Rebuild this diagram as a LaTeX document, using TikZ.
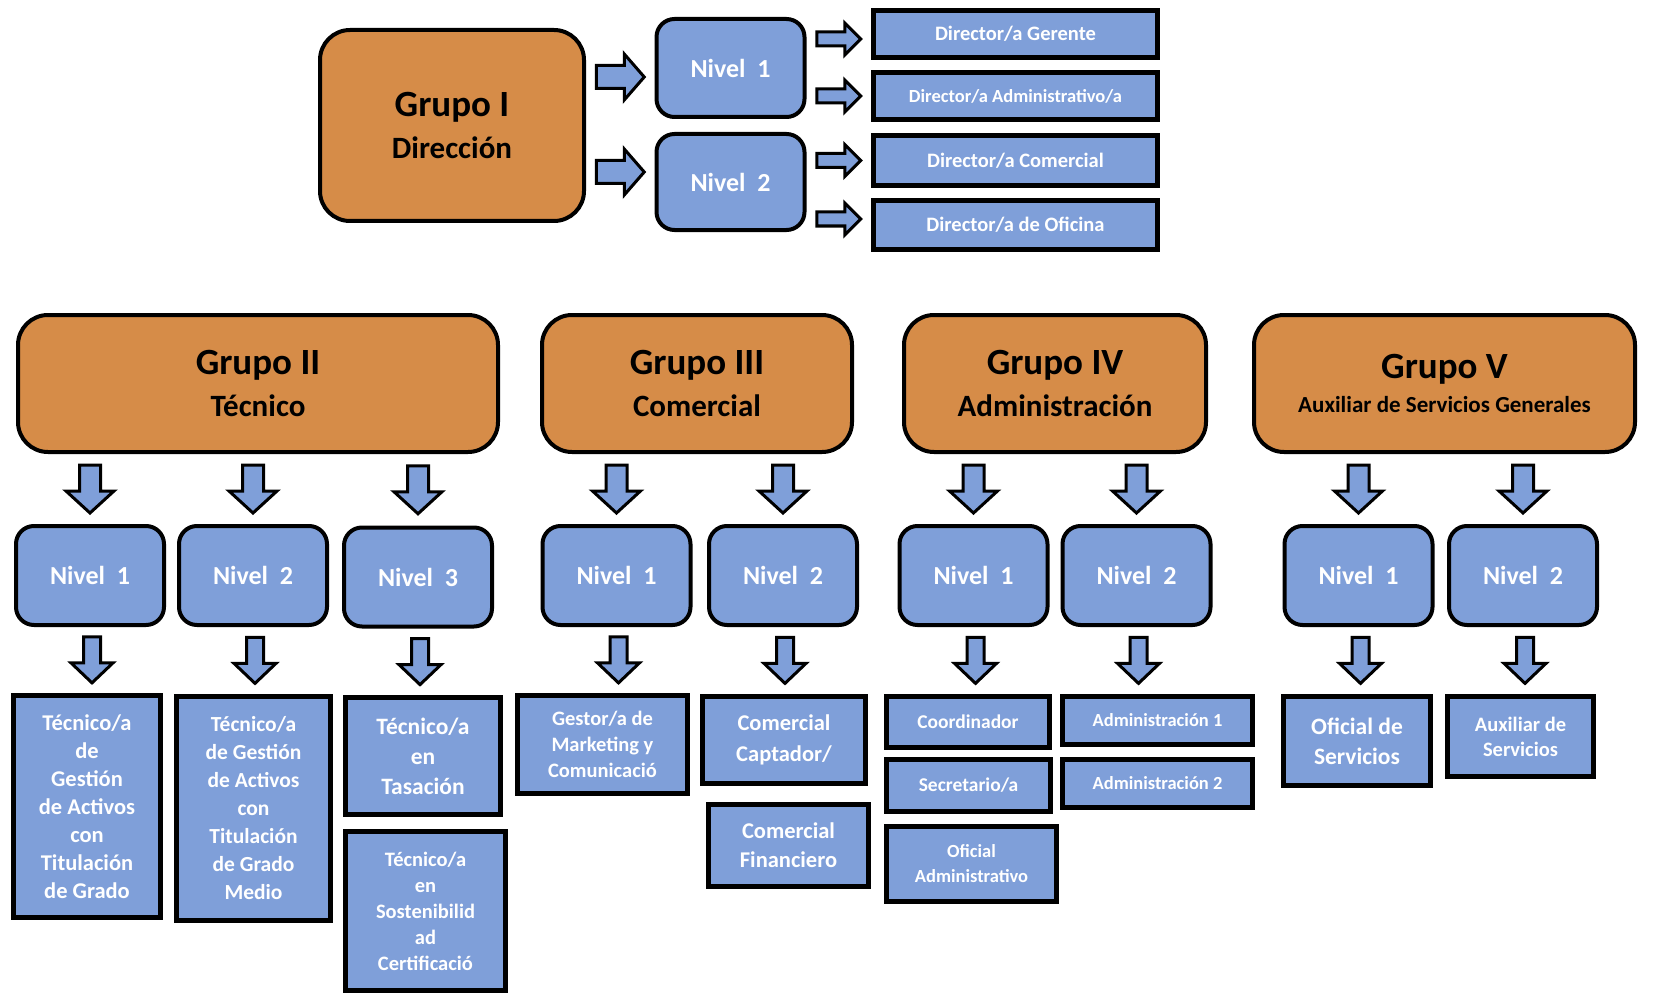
\documentclass[tikz,border=0pt]{standalone}
\usepackage{fontspec}
\setmainfont{Carlito}
\usetikzlibrary{calc}
\definecolor{orng}{RGB}{214,140,72}
\definecolor{blu}{RGB}{127,159,217}
\newcommand\fsz[2]{\fontsize{#1}{#2}\selectfont\bfseries}
\tikzset{
 grp/.style={draw=black, line width=4, fill=orng, rounded corners=30, text=black, align=center, inner sep=0},
 lvl/.style={draw=black, line width=4, fill=blu, rounded corners=18, text=white, align=center, font=\fsz{26}{30}, inner sep=0, minimum width=148, minimum height=99},
 job/.style={draw=black, line width=5.5, fill=blu, text=white, align=center, inner sep=0},
 arrowblk/.style={draw=black, line width=3, fill=blu, line join=miter},
}
% block arrow: #1 centre, #2 angle, #3 length, #4 head width, #5 shaft width, #6 head length
\newcommand\blkarr[6]{%
 \begin{scope}[shift={#1},rotate=#2]
 \draw[arrowblk] ({-#3/2},{-#5/2}) -- ({#3/2-#6},{-#5/2}) -- ({#3/2-#6},{-#4/2}) -- ({#3/2},0) -- ({#3/2-#6},{#4/2}) -- ({#3/2-#6},{#5/2}) -- ({-#3/2},{#5/2}) -- cycle;
 \end{scope}}
\begin{document}
\begin{tikzpicture}[x=1pt,y=-1pt]
\fill[white] (0,0) rectangle (1654,1003);
\useasboundingbox (0,0) rectangle (1654,1003);
% ---------- Group I ----------
\node[grp, minimum width=264, minimum height=191, font=\fsz{31}{42}] (g1) at (452,125.5) {{\fsz{37}{42}Grupo I}\\Dirección};
\node[lvl, minimum height=98] (t1) at (730.5,68) {Nivel~~1};
\node[lvl, minimum height=96] (t2) at (730.5,182) {Nivel~~2};
\node[job, line width=5, minimum width=284, minimum height=47, font=\fsz{20.5}{25}] (d1) at (1015.5,34) {Director/a Gerente};
\node[job, line width=5, minimum width=284, minimum height=47, font=\fsz{18.5}{23}] (d2) at (1015.5,96) {Director/a Administrativo/a};
\node[job, line width=5, minimum width=284, minimum height=50, font=\fsz{20.5}{25}] (d3) at (1015.5,160.5) {Director/a Comercial};
\node[job, line width=5, minimum width=284, minimum height=49, font=\fsz{20.5}{25}] (d4) at (1015.5,225) {Director/a de Oficina};
\blkarr{($(g1.east |- 0,77)!.5!(t1.west |- 0,77)$)}{0}{48}{46}{23}{20}
\blkarr{($(g1.east |- 0,172)!.5!(t2.west |- 0,172)$)}{0}{48}{46}{23}{20}
\blkarr{($(t1.east |- d1)!.5!(d1.west)+(0,5)$)}{0}{44}{32}{14}{16}
\blkarr{($(t1.east |- d2)!.5!(d2.west)$)}{0}{44}{32}{14}{16}
\blkarr{($(t2.east |- d3)!.5!(d3.west)$)}{0}{44}{32}{14}{16}
\blkarr{($(t2.east |- d4)!.5!(d4.west)+(0,-6)$)}{0}{44}{32}{14}{16}
% ---------- Groups II - V ----------
\node[grp, minimum width=480, minimum height=137, font=\fsz{31}{42}] (g2) at (258,383.5) {{\fsz{37}{42}Grupo II}\\Técnico};
\node[grp, minimum width=310, minimum height=137, font=\fsz{31}{42}] (g3) at (697,383.5) {{\fsz{37}{42}Grupo III}\\Comercial};
\node[grp, minimum width=302, minimum height=137, font=\fsz{31}{42}] (g4) at (1055,383.5) {{\fsz{37}{42}Grupo IV}\\Administración};
\node[grp, minimum width=381, minimum height=137, font=\fsz{23}{34}] (g5) at (1444.5,383.5) {{\fsz{37}{34}Grupo V}\\Auxiliar de Servicios Generales};
% levels
\node[lvl] (n21) at (90,575.5) {Nivel~~1};
\node[lvl] (n22) at (253,575.5) {Nivel~~2};
\node[lvl] (n23) at (418,577) {Nivel~~3};
\node[lvl] (n31) at (616.5,575.5) {Nivel~~1};
\node[lvl] (n32) at (783,575.5) {Nivel~~2};
\node[lvl] (n41) at (973.5,575.5) {Nivel~~1};
\node[lvl] (n42) at (1136.5,575.5) {Nivel~~2};
\node[lvl] (n51) at (1358.5,575.5) {Nivel~~1};
\node[lvl] (n52) at (1523,575.5) {Nivel~~2};
% jobs
\node[job, minimum width=147, minimum height=222, font=\fsz{22.5}{28}] (j21) at (87,806.5) {Técnico/a\\de\\Gestión\\de Activos\\con\\Titulación\\de Grado};
\node[job, minimum width=154, minimum height=224, font=\fsz{21.5}{28}] (j22) at (253.5,808.5) {Técnico/a\\de Gestión\\de Activos\\con\\Titulación\\de Grado\\Medio};
\node[job, minimum width=155, minimum height=117, font=\fsz{23.5}{30}] (j23a) at (423,756) {Técnico/a\\en\\Tasación};
\node[job, minimum width=160, minimum height=159, font=\fsz{20.5}{26}] (j23b) at (425.5,911) {Técnico/a\\en\\Sostenibilid\\ad\\Certificació};
\node[job, minimum width=170, minimum height=98, font=\fsz{20.5}{26}] (j31) at (602.5,744.5) {Gestor/a de\\Marketing y\\Comunicació};
\node[job, minimum width=163, minimum height=87, font=\fsz{22.5}{31}] (j32a) at (784,740) {Comercial\\Captador/};
\node[job, minimum width=160, minimum height=82, font=\fsz{22.5}{29}] (j32b) at (788.5,845.5) {Comercial\\Financiero};
\node[job, minimum width=163, minimum height=51, font=\fsz{19.5}{24}] (j41a) at (968,722) {Coordinador};
\node[job, minimum width=164, minimum height=52, font=\fsz{19.5}{24}] (j41b) at (968.5,785.5) {Secretario/a};
\node[job, minimum width=170, minimum height=75, font=\fsz{18.5}{25}] (j41c) at (971.5,864) {Oficial\\Administrativo};
\node[job, minimum width=190, minimum height=48, font=\fsz{18.5}{23}] (j42a) at (1157.5,720.5) {Administración 1};
\node[job, minimum width=190, minimum height=48, font=\fsz{18.5}{23}] (j42b) at (1157.5,783.5) {Administración 2};
\node[job, minimum width=147, minimum height=89, font=\fsz{23.5}{30}] (j51) at (1357,741) {Oficial de\\Servicios};
\node[job, minimum width=146, minimum height=80, font=\fsz{20.5}{25}] (j52) at (1520.5,736.5) {Auxiliar de\\Servicios};
% arrows group -> level
\foreach \g/\n in {g2/n21,g2/n22,g2/n23,g3/n31,g3/n32,g4/n41,g4/n42,g5/n51,g5/n52}{
 \blkarr{($(\n.north)!.5!(\n.north |- \g.south)$)}{-90}{48}{48}{21}{22}
}
% arrows level -> job
\foreach \n/\j in {n21/j21,n22/j22,n23/j23a,n31/j31,n32/j32a,n41/j41a,n42/j42a,n51/j51,n52/j52}{
 \blkarr{($(\n.south)!.5!(\n.south |- \j.north)+(2,0)$)}{-90}{46}{42}{17}{20}
}
\end{tikzpicture}
\end{document}
